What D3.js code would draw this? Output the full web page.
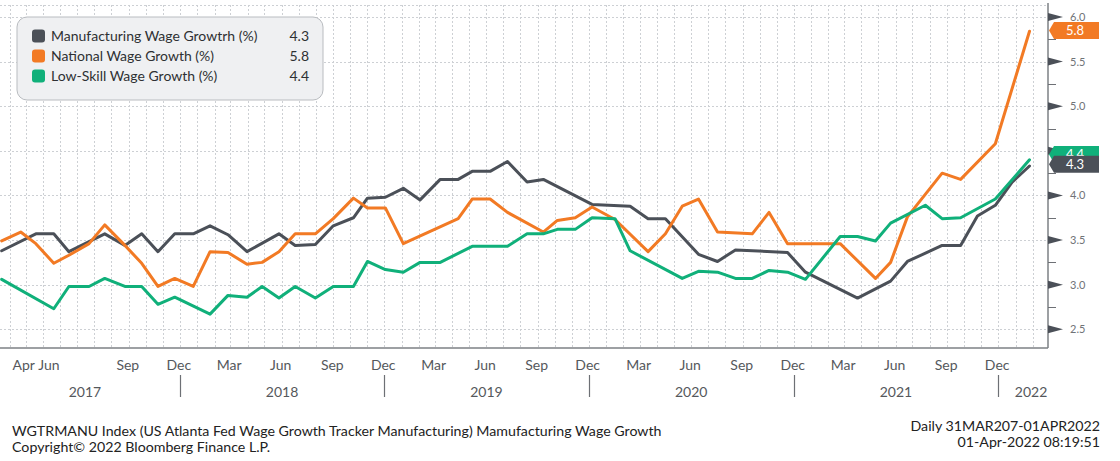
<!DOCTYPE html>
<html>
<head>
<meta charset="utf-8">
<script src="https://cdn.jsdelivr.net/npm/d3@7"></script>
<style>
  html, body { margin: 0; padding: 0; background: #ffffff; }
  svg { display: block; font-family: Lato, "Open Sans", sans-serif; }
</style>
</head>
<body>
<svg id="chart" width="1120" height="461"></svg>
<script>
// ---------------- DATA ----------------
const dates = [
  "2017-01-17","2017-02-20","2017-03-19","2017-04-20","2017-05-17","2017-06-22","2017-07-20","2017-08-25","2017-09-24","2017-10-23",
  "2017-11-22","2017-12-25","2018-01-24","2018-02-25","2018-03-31","2018-04-27","2018-05-27","2018-06-25","2018-07-31","2018-09-01",
  "2018-10-07","2018-11-01","2018-12-03","2019-01-04","2019-02-03","2019-03-11","2019-04-12","2019-05-07","2019-06-08","2019-07-09",
  "2019-08-13","2019-09-11","2019-10-06","2019-11-07","2019-12-07","2020-01-17","2020-02-13","2020-03-16","2020-04-16","2020-05-16",
  "2020-06-14","2020-07-18","2020-08-19","2020-09-18","2020-10-18","2020-11-20","2020-12-22","2021-01-21","2021-02-22","2021-03-25",
  "2021-04-26","2021-05-23","2021-06-22","2021-07-24","2021-08-23","2021-09-25","2021-10-25","2021-11-26","2021-12-26","2022-01-26"
];
const manufacturing = [
  3.38,null,3.57,3.57,3.37,null,3.57,3.44,3.57,3.37,
  3.57,3.57,3.66,3.56,3.37,null,3.57,3.44,3.45,3.66,
  3.75,3.97,3.98,4.08,3.95,4.18,4.18,4.27,4.27,4.38,
  4.15,4.18,null,null,3.90,null,3.88,3.74,3.74,null,
  3.34,3.26,3.39,null,null,3.36,3.14,null,null,2.85,
  null,3.04,3.26,null,3.44,3.44,3.77,3.89,4.15,4.33
];
const national = [
  3.49,3.59,3.46,3.24,3.33,3.46,3.67,3.44,3.24,2.98,
  3.07,2.98,3.37,3.36,3.23,3.25,3.37,3.57,3.57,3.74,
  3.97,3.86,3.86,3.46,null,null,3.74,3.96,3.96,3.81,
  null,3.59,3.72,3.75,3.87,3.73,null,3.37,3.57,3.88,
  3.96,3.59,null,3.57,3.81,3.46,null,null,3.46,null,
  3.07,3.25,3.76,null,4.25,4.18,null,4.58,null,5.84
];
const lowSkill = [
  3.06,null,null,2.73,2.98,2.98,3.07,2.98,2.98,2.78,
  2.86,null,2.67,2.88,2.86,2.98,2.85,2.98,2.85,2.98,
  2.98,3.26,3.17,3.14,3.25,3.25,null,3.43,null,3.43,
  3.57,3.57,3.62,3.62,3.75,3.74,3.38,null,null,3.07,
  3.15,3.14,3.07,3.07,3.16,3.14,3.06,null,3.54,3.54,
  3.49,3.69,null,3.89,3.74,3.75,null,3.96,null,4.40
];
const seriesNames = ["Manufacturing Wage Growtrh (%)", "National Wage Growth (%)", "Low-Skill Wage Growth (%)"];
const legendValues = ["4.3", "5.8", "4.4"];
const badgeValues = [4.35, 5.85, 4.46];
const seriesColors = ["#4b5058", "#f27a24", "#10b07a"];

const yTicks = [2.5, 3.0, 3.5, 4.0, 4.5, 5.0, 5.5, 6.0];
const yMinorTicks = [2.75, 3.25, 3.75, 4.25, 4.75, 5.25, 5.75];

const monthTickLabels = ["Apr","Jun","Sep","Dec","Mar","Jun","Sep","Dec","Mar","Jun","Sep","Dec","Mar","Jun","Sep","Dec","Mar","Jun","Sep","Dec"];
const monthTickDates = ["2017-02-27","2017-04-13","2017-09-01","2017-12-01","2018-03-01","2018-06-01","2018-09-01","2018-12-01",
  "2019-03-01","2019-06-01","2019-09-01","2019-12-01","2020-03-01","2020-06-01","2020-09-01","2020-12-01",
  "2021-03-01","2021-06-01","2021-09-01","2021-12-01"];
const yearLabels = ["2017","2018","2019","2020","2021","2022"];
const yearSeparators = ["2017-12-01","2018-12-01","2019-12-01","2020-12-01","2021-12-01"];

const footerLeft = ["WGTRMANU Index (US Atlanta Fed Wage Growth Tracker Manufacturing) Mamufacturing Wage Growth",
                    "Copyright\u00A9 2022 Bloomberg Finance L.P."];
const footerRight = ["Daily 31MAR207-01APR2022", "01-Apr-2022 08:19:51"];

// ---------------- LAYOUT ----------------
const parse = d3.timeParse("%Y-%m-%d");
const plot = { left: 0, right: 1048, top: 5, bottom: 348 };
const svg = d3.select("#chart");

const x = d3.scaleTime()
  .domain([parse("2017-01-14"), parse("2022-02-28")])
  .range([plot.left, plot.right]);
const y = d3.scaleLinear().domain([2.5, 6.0]).range([329.3, 17]);

const gridColor = "#cdd0d4";
const badgeHalf = 8.5;

// vertical monthly gridlines
const months = d3.timeMonth.range(x.domain()[0], x.domain()[1]);
svg.append("g").selectAll("line").data(months).join("line")
  .attr("x1", d => Math.round(x(d)) + 0.5).attr("x2", d => Math.round(x(d)) + 0.5)
  .attr("y1", plot.top).attr("y2", plot.bottom)
  .attr("stroke", gridColor).attr("stroke-width", 1).attr("stroke-dasharray", "2,2");

// horizontal gridlines
svg.append("g").selectAll("line").data(yTicks).join("line")
  .attr("x1", plot.left).attr("x2", plot.right)
  .attr("y1", d => Math.round(y(d)) + 0.5).attr("y2", d => Math.round(y(d)) + 0.5)
  .attr("stroke", gridColor).attr("stroke-width", 1).attr("stroke-dasharray", "2,2");

// top dotted border
svg.append("line").attr("x1", plot.left).attr("x2", plot.right)
  .attr("y1", plot.top + 0.5).attr("y2", plot.top + 0.5)
  .attr("stroke", gridColor).attr("stroke-dasharray", "2,2");

// ---------------- LINES ----------------
const allSeries = [manufacturing, national, lowSkill];
const line = d3.line().x(d => x(d.date)).y(d => y(d.v)).curve(d3.curveLinear);
allSeries.forEach((vals, i) => {
  const pts = dates.map((d, j) => ({ date: parse(d), v: vals[j] })).filter(p => p.v !== null);
  svg.append("path").datum(pts)
    .attr("d", line)
    .attr("fill", "none")
    .attr("stroke", seriesColors[i])
    .attr("stroke-width", 3)
    .attr("stroke-linejoin", "round")
    .attr("stroke-linecap", "round");
});

// ---------------- AXES ----------------
svg.append("line").attr("x1", plot.left).attr("x2", plot.right)
  .attr("y1", plot.bottom).attr("y2", plot.bottom)
  .attr("stroke", "#7d8084").attr("stroke-width", 1.5);
svg.append("line").attr("x1", plot.right).attr("x2", plot.right)
  .attr("y1", 3).attr("y2", plot.bottom)
  .attr("stroke", "#7d8084").attr("stroke-width", 1.5);

const yAxisG = svg.append("g");
yAxisG.selectAll("path.tri").data(yTicks).join("path")
  .attr("class", "tri")
  .attr("d", d => `M${plot.right},${y(d) - 4}L${plot.right + 15},${y(d)}L${plot.right},${y(d) + 4}Z`)
  .attr("fill", "#4b5058");
yAxisG.selectAll("line.minor").data(yMinorTicks).join("line")
  .attr("class", "minor")
  .attr("x1", plot.right).attr("x2", plot.right + 8)
  .attr("y1", d => Math.round(y(d)) + 0.5).attr("y2", d => Math.round(y(d)) + 0.5)
  .attr("stroke", "#6d7075").attr("stroke-width", 1);
// tick labels that are covered by a value badge are not shown (as in the original)
const visibleTickLabels = yTicks.filter(t =>
  !badgeValues.some(b => Math.abs(y(t) - y(b)) < badgeHalf + 2));
yAxisG.selectAll("text").data(visibleTickLabels).join("text")
  .attr("x", plot.right + 22).attr("y", d => y(d) + 4)
  .attr("font-size", 11).attr("fill", "#707377")
  .text(d => d3.format(".1f")(d));

// month labels
svg.append("g").selectAll("text").data(monthTickLabels).join("text")
  .attr("x", (d, i) => x(parse(monthTickDates[i])) - 1)
  .attr("y", 370)
  .attr("text-anchor", "middle")
  .attr("font-size", 14).attr("fill", "#55585c")
  .text(d => d);

// year separators
svg.append("g").selectAll("line").data(yearSeparators).join("line")
  .attr("x1", d => Math.round(x(parse(d))) + 0.5).attr("x2", d => Math.round(x(parse(d))) + 0.5)
  .attr("y1", 375).attr("y2", 397)
  .attr("stroke", "#6d7075").attr("stroke-width", 1.2);

const sepX = [plot.left, ...yearSeparators.map(d => x(parse(d))), plot.right];
svg.append("g").selectAll("text").data(yearLabels).join("text")
  .attr("x", (d, i) => {
    let c = (sepX[i] + sepX[i + 1]) / 2;
    if (i === 0) c -= 5;
    if (i === yearLabels.length - 1) c += 8;
    return c;
  })
  .attr("y", 397)
  .attr("text-anchor", "middle")
  .attr("font-size", 14).attr("fill", "#55585c")
  .text(d => d);

// ---------------- BADGES ----------------
const badgeOrder = [1, 2, 0];
badgeOrder.forEach(i => {
  const cy = y(badgeValues[i]);
  const h = badgeHalf;
  const g = svg.append("g");
  g.append("path")
    .attr("d", `M${plot.right + 1},${cy}L${plot.right + 6},${cy - h}L1099,${cy - h}L1099,${cy + h}L${plot.right + 6},${cy + h}Z`)
    .attr("fill", seriesColors[i]);
  g.append("text")
    .attr("x", 1075).attr("y", cy + 4.5)
    .attr("text-anchor", "middle")
    .attr("font-size", 13).attr("fill", "#ffffff")
    .text(legendValues[i]);
});

// ---------------- LEGEND ----------------
const lg = svg.append("g");
lg.append("rect").attr("x", 17).attr("y", 17).attr("width", 306).attr("height", 83)
  .attr("rx", 10).attr("fill", "#eff0f2").attr("stroke", "#b9bcc0").attr("stroke-width", 1);
seriesNames.forEach((name, i) => {
  const cy = 36 + i * 20;
  lg.append("rect").attr("x", 32).attr("y", cy - 6.5).attr("width", 13).attr("height", 13)
    .attr("rx", 3).attr("fill", seriesColors[i]);
  lg.append("text").attr("x", 51).attr("y", cy + 5)
    .attr("font-size", 14).attr("fill", "#2e3033").text(name);
  lg.append("text").attr("x", 309).attr("y", cy + 5).attr("text-anchor", "end")
    .attr("font-size", 14).attr("fill", "#2e3033").text(legendValues[i]);
});

// ---------------- FOOTER ----------------
svg.append("g").selectAll("text").data(footerLeft).join("text")
  .attr("x", 12).attr("y", (d, i) => 436 + i * 16)
  .attr("font-size", 14.2).attr("fill", "#222")
  .text(d => d);
svg.append("g").selectAll("text").data(footerRight).join("text")
  .attr("x", 1100).attr("y", (d, i) => 431 + i * 16)
  .attr("text-anchor", "end")
  .attr("font-size", 14.2).attr("fill", "#222")
  .text(d => d);
</script>
</body>
</html>
